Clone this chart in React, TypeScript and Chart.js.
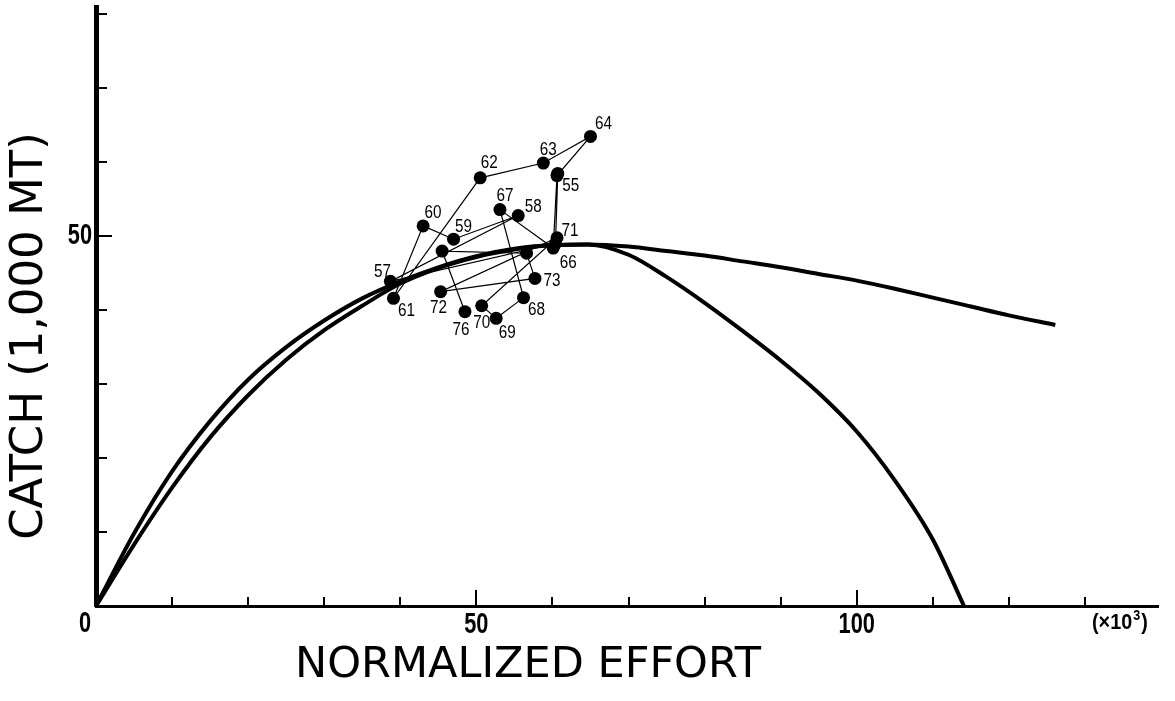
import React, { useEffect, useRef } from 'react';
import { Chart, registerables } from 'chart.js';

Chart.register(...registerables);

// ---- Data ----
const years = ['55', '56', '57', '58', '59', '60', '61', '62', '63', '64', '65', '66', '67', '68', '69', '70', '71', '72', '73', '74', '75', '76'];
const yearEffort = [60.7, 60.4, 38.7, 55.5, 47.0, 43.0, 39.1, 50.5, 58.8, 65.0, 60.6, 60.1, 53.1, 56.2, 52.6, 50.7, 60.6, 45.3, 57.7, 56.6, 45.5, 48.5];
const yearCatch = [58.5, 49.0, 43.9, 52.8, 49.6, 51.4, 41.6, 57.9, 59.9, 63.5, 58.2, 48.4, 53.6, 41.7, 38.9, 40.6, 49.8, 42.5, 44.3, 47.7, 48.0, 39.8];
const yearLabelShown = ['55', '', '57', '58', '59', '60', '61', '62', '63', '64', '', '66', '67', '68', '69', '70', '71', '72', '73', '', '', '76'];

// steeper rising branch, flat (slowly declining) right branch
const curveAEffort = [0, 5, 10, 15, 20, 25, 30, 35, 40, 45, 50, 55, 60, 64.7, 70, 75, 80, 85, 90, 95, 100, 105, 110, 115, 120, 126.1];
const curveACatch = [0, 9.8, 18.2, 25.0, 30.6, 35.0, 38.6, 41.6, 43.9, 45.8, 47.3, 48.3, 48.8, 48.9, 48.6, 48.0, 47.4, 46.6, 45.8, 44.9, 44.0, 42.9, 41.7, 40.5, 39.3, 38.0];

// gentler rising branch, right branch falling to zero
const curveBEffort = [0, 5, 10, 15, 20, 25, 30, 35, 40, 45, 50, 55, 60, 64.7, 70, 75, 80, 85, 90, 95, 100, 105, 110, 114.1];
const curveBCatch = [0, 8.3, 16.0, 22.8, 28.5, 33.3, 37.3, 40.6, 43.6, 45.7, 47.2, 48.2, 48.8, 48.9, 47.5, 44.5, 41.0, 37.2, 33.2, 28.8, 23.6, 17.0, 9.0, 0];

const xTickValues = [0, 10, 20, 30, 40, 50, 60, 70, 80, 90, 100, 110, 120, 130];
const xLabeledTicks = [50, 100];
const yTickValues = [0, 10, 20, 30, 40, 50, 60, 70, 80];
const yLabeledTicks = [50];
const xMax = 139.6;
const yMax = 81;

const xTitle = 'NORMALIZED EFFORT';
const yTitle = 'CATCH (1,000 MT)';
const originLabel = '0';
const unitLabelMain = '(\u00d710';
const unitLabelSup = '3';
const unitLabelEnd = ')';

// ---- Styling: year label offsets (px) ----
const labelOffsets: Record<string, [number, number]> = {
  '55': [13, 13], '57': [-8, -9], '58': [15, -9], '59': [10, -12], '60': [10, -13],
  '61': [13, 13], '62': [9, -15], '63': [5, -13], '64': [13, -12], '66': [15, 15],
  '67': [5, -14], '68': [13, 12], '69': [11, 15], '70': [0, 17], '71': [13, -7],
  '72': [-2, 16], '73': [17, 3], '76': [-4, 18],
};

const SANS = '"Liberation Sans", Arial, sans-serif';

function drawText(ctx: CanvasRenderingContext2D, text: string, x: number, y: number, font: string, align: CanvasTextAlign, scaleX: number) {
  ctx.save();
  ctx.translate(x, y);
  ctx.scale(scaleX, 1);
  ctx.font = font;
  ctx.textAlign = align;
  ctx.textBaseline = 'middle';
  ctx.fillText(text, 0, 0);
  ctx.restore();
}

export default function App() {
  const canvasRef = useRef<HTMLCanvasElement | null>(null);

  useEffect(() => {
    if (!canvasRef.current) return;

    const decor = {
      id: 'decor',
      afterDatasetsDraw(chart: any) {
        const ctx = chart.ctx;
        const meta = chart.getDatasetMeta(0);
        ctx.save();
        ctx.fillStyle = '#000';
        meta.data.forEach((el: any, i: number) => {
          const lbl = yearLabelShown[i];
          if (!lbl) return;
          const off = labelOffsets[lbl] || [10, -10];
          drawText(ctx, lbl, el.x + off[0], el.y + off[1], `18px ${SANS}`, 'center', 0.85);
        });
        ctx.restore();
      },
      afterDraw(chart: any) {
        const ctx = chart.ctx;
        const xs = chart.scales.x;
        const ys = chart.scales.y;
        const x0 = xs.getPixelForValue(0);
        const y0 = ys.getPixelForValue(0);
        ctx.save();
        ctx.strokeStyle = '#000';
        ctx.fillStyle = '#000';
        ctx.lineWidth = 2;
        ctx.beginPath();
        xTickValues.forEach((v) => {
          if (v === 0) return;
          const px = Math.round(xs.getPixelForValue(v));
          const len = v % 50 === 0 ? 16 : 9;
          ctx.moveTo(px, y0);
          ctx.lineTo(px, y0 - len);
        });
        yTickValues.forEach((v) => {
          if (v === 0) return;
          const py = Math.round(ys.getPixelForValue(v));
          const len = v % 50 === 0 ? 16 : 11;
          ctx.moveTo(x0, py);
          ctx.lineTo(x0 + len, py);
        });
        ctx.stroke();

        const tickFont = `bold 29px ${SANS}`;
        xLabeledTicks.forEach((v) => {
          drawText(ctx, String(v), xs.getPixelForValue(v), y0 + 19, tickFont, 'center', 0.75);
        });
        yLabeledTicks.forEach((v) => {
          drawText(ctx, String(v), x0 - 4, ys.getPixelForValue(v), tickFont, 'right', 0.75);
        });
        // origin label
        drawText(ctx, originLabel, x0 - 11, y0 + 18, tickFont, 'center', 0.75);

        // unit label
        const ux = chart.chartArea.right - 66;
        const uy = y0 + 17;
        ctx.font = `bold 22px ${SANS}`;
        const w1 = ctx.measureText(unitLabelMain).width * 0.9;
        drawText(ctx, unitLabelMain, ux, uy, `bold 22px ${SANS}`, 'left', 0.9);
        ctx.font = `bold 14px ${SANS}`;
        const w2 = ctx.measureText(unitLabelSup).width * 0.9;
        drawText(ctx, unitLabelSup, ux + w1 + 1, uy - 7, `bold 14px ${SANS}`, 'left', 0.9);
        drawText(ctx, unitLabelEnd, ux + w1 + w2 + 2, uy, `bold 22px ${SANS}`, 'left', 0.9);

        // axis titles
        ctx.font = `43px "DejaVu Sans", sans-serif`;
        ctx.textAlign = 'center';
        ctx.textBaseline = 'middle';
        ctx.fillText(xTitle, 528, 666);
        ctx.save();
        ctx.translate(30, 336);
        ctx.rotate(-Math.PI / 2);
        ctx.font = `45px "DejaVu Sans", sans-serif`;
        ctx.fillText(yTitle, 0, 0);
        ctx.restore();
        ctx.restore();
      },
    };

    const chart = new Chart(canvasRef.current, {
      type: 'scatter',
      data: {
        datasets: [
          {
            label: 'Years',
            data: yearEffort.map((x, i) => ({ x, y: yearCatch[i] })),
            showLine: true,
            borderColor: '#000',
            borderWidth: 1.2,
            backgroundColor: '#000',
            pointBackgroundColor: '#000',
            pointBorderColor: '#000',
            pointRadius: 6.5,
            pointBorderWidth: 0,
          },
          {
            label: 'Curve A',
            data: curveAEffort.map((x, i) => ({ x, y: curveACatch[i] })),
            showLine: true,
            borderColor: '#000',
            borderWidth: 4,
            pointRadius: 0,
            cubicInterpolationMode: 'monotone',
          },
          {
            label: 'Curve B',
            data: curveBEffort.map((x, i) => ({ x, y: curveBCatch[i] })),
            showLine: true,
            borderColor: '#000',
            borderWidth: 4,
            pointRadius: 0,
            cubicInterpolationMode: 'monotone',
          },
        ],
      },
      options: {
        animation: false,
        responsive: true,
        maintainAspectRatio: false,
        layout: { padding: { top: 7, right: 17, left: 0, bottom: 0 } },
        plugins: { legend: { display: false }, tooltip: { enabled: false } },
        scales: {
          x: {
            type: 'linear',
            min: 0,
            max: xMax,
            grid: { display: false },
            border: { display: true, color: '#000', width: 3 },
            afterFit: (s: any) => { s.height = 95; },
            ticks: { display: false, stepSize: 10 },
          },
          y: {
            type: 'linear',
            min: 0,
            max: yMax,
            grid: { display: false },
            border: { display: true, color: '#000', width: 5 },
            afterFit: (s: any) => { s.width = 96; },
            ticks: { display: false, stepSize: 10 },
          },
        },
      },
      plugins: [decor],
    });

    return () => chart.destroy();
  }, []);

  return (
    <div style={{ position: 'fixed', left: 0, top: 0, width: 1175, height: 701, background: '#fff' }}>
      <canvas ref={canvasRef} />
    </div>
  );
}
